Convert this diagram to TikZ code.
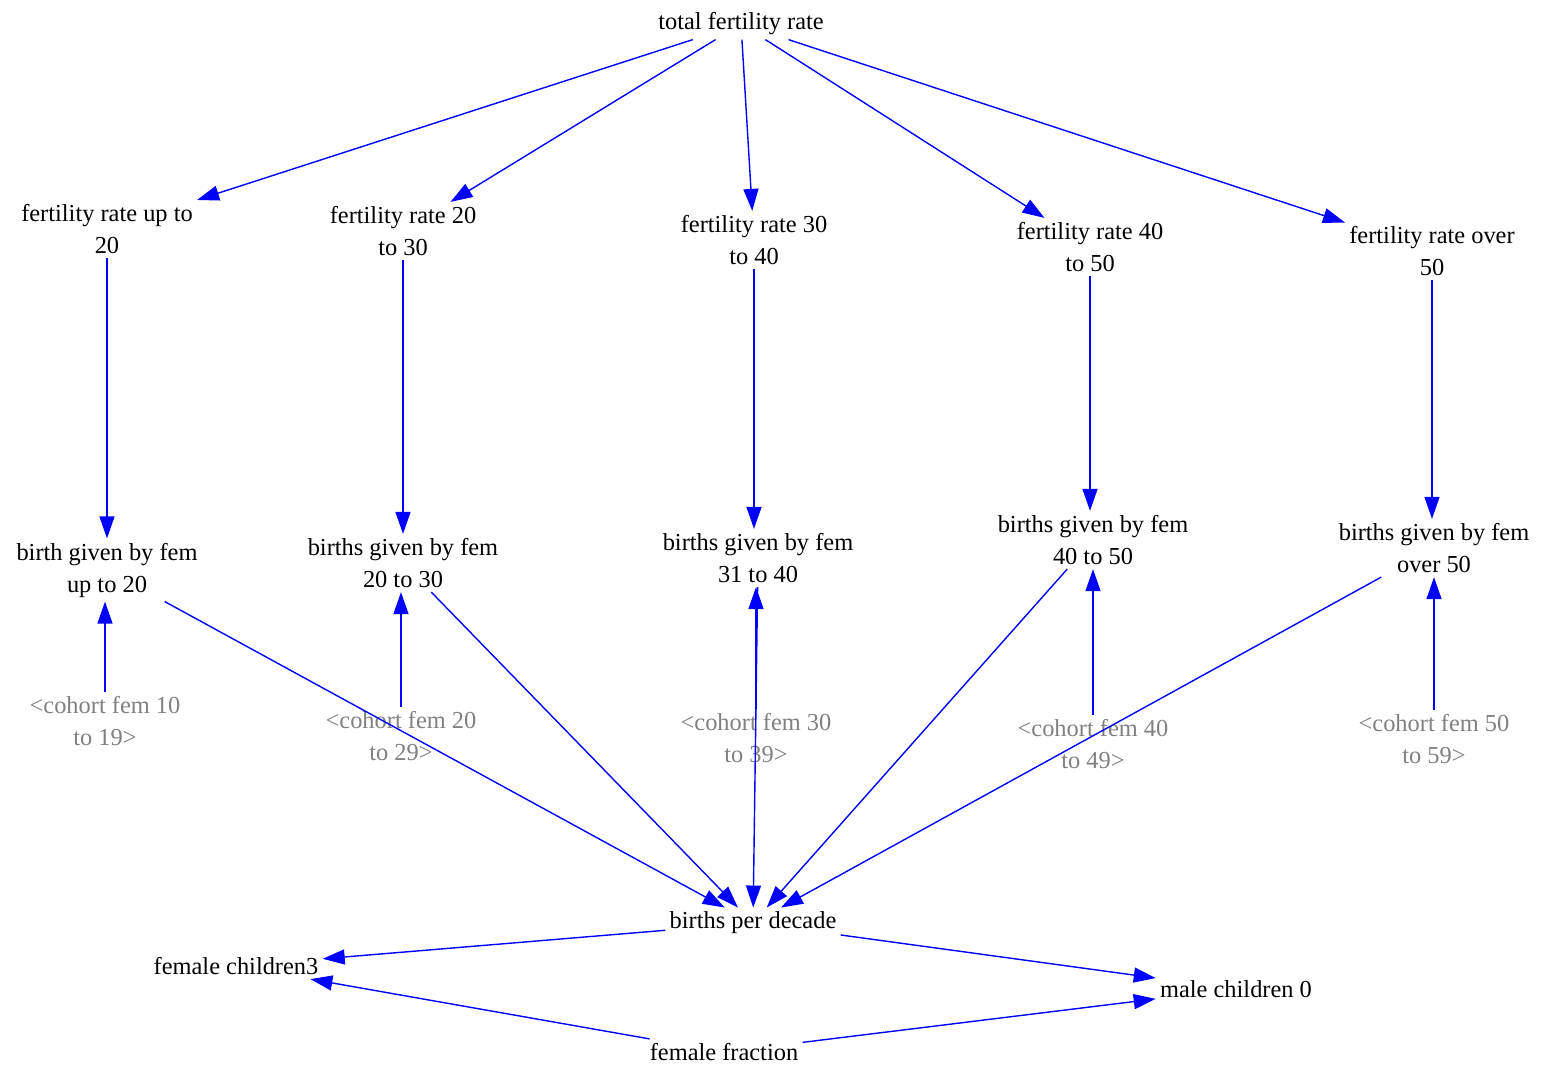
\documentclass[tikz,border=0pt]{standalone}
\usepackage{fontspec}
\setmainfont{Liberation Serif}
\usetikzlibrary{arrows.meta}

\begin{document}
\begin{tikzpicture}[y=-0.5pt,x=0.5pt,
	var/.style={align=center, font=\fontsize{12.2}{16}\selectfont, inner sep=2pt},
	shadow/.style={var, text=gray},
	link/.style={draw=blue, line width=0.7pt, -{Triangle[length=11pt,width=7.5pt]}}]
	\useasboundingbox (0,0) rectangle (1543,1072);

	\node[var] (total) at (741,24) {total fertility rate};

	\node[var] (fr20) at (107,229) {fertility rate up to\\20};
	\node[var] (fr2030) at (403,231) {fertility rate 20\\to 30};
	\node[var] (fr3040) at (754,240) {fertility rate 30\\to 40};
	\node[var] (fr4050) at (1090,247) {fertility rate 40\\to 50};
	\node[var] (fr50) at (1432,251) {fertility rate over\\50};

	\node[var] (b20) at (107,570) {birth given by fem\\up to 20};
	\node[var] (b2030) at (403,563) {births given by fem\\20 to 30};
	\node[var] (b3140) at (758,558) {births given by fem\\31 to 40};
	\node[var] (b4050) at (1093,540) {births given by fem\\40 to 50};
	\node[var] (b50) at (1434,548) {births given by fem\\over 50};

	\node[shadow] (c10) at (105,721) {<cohort fem 10\\to 19>};
	\node[shadow] (c20) at (401,736) {<cohort fem 20\\to 29>};
	\node[shadow] (c30) at (756,738) {<cohort fem 30\\to 39>};
	\node[shadow] (c40) at (1093,744) {<cohort fem 40\\to 49>};
	\node[shadow] (c50) at (1434,739) {<cohort fem 50\\to 59>};

	\node[var] (bpd) at (753,923) {births per decade};
	\node[var] (fc3) at (236,966) {female children3};
	\node[var] (mc0) at (1236,989) {male children 0};
	\node[var] (ff) at (724,1052) {female fraction};

	\draw[link] (total) -- (fr20);
	\draw[link] (total) -- (fr2030);
	\draw[link] (total) -- (fr3040);
	\draw[link] (total) -- (fr4050);
	\draw[link] (total) -- (fr50);

	\draw[link] (fr20) -- (fr20 |- b20.north);
	\draw[link] (fr2030) -- (fr2030 |- b2030.north);
	\draw[link] (fr3040) -- (fr3040 |- b3140.north);
	\draw[link] (fr4050) -- (fr4050 |- b4050.north);
	\draw[link] (fr50) -- (fr50 |- b50.north);

	\draw[link] (c10) -- (c10 |- b20.south);
	\draw[link] (c20) -- (c20 |- b2030.south);
	\draw[link] (c30) -- (c30 |- b3140.south);
	\draw[link] (c40) -- (c40 |- b4050.south);
	\draw[link] (c50) -- (c50 |- b50.south);

	\draw[link] (b20) -- (bpd);
	\draw[link] (b2030) -- (bpd);
	\draw[link] (b3140) -- (bpd);
	\draw[link] (b4050) -- (bpd);
	\draw[link] (b50) -- (bpd);

	\draw[link] (bpd) -- (fc3);
	\draw[link] (bpd) -- (mc0);
	\draw[link] (ff) -- (fc3);
	\draw[link] (ff) -- (mc0);
\end{tikzpicture}
\end{document}
